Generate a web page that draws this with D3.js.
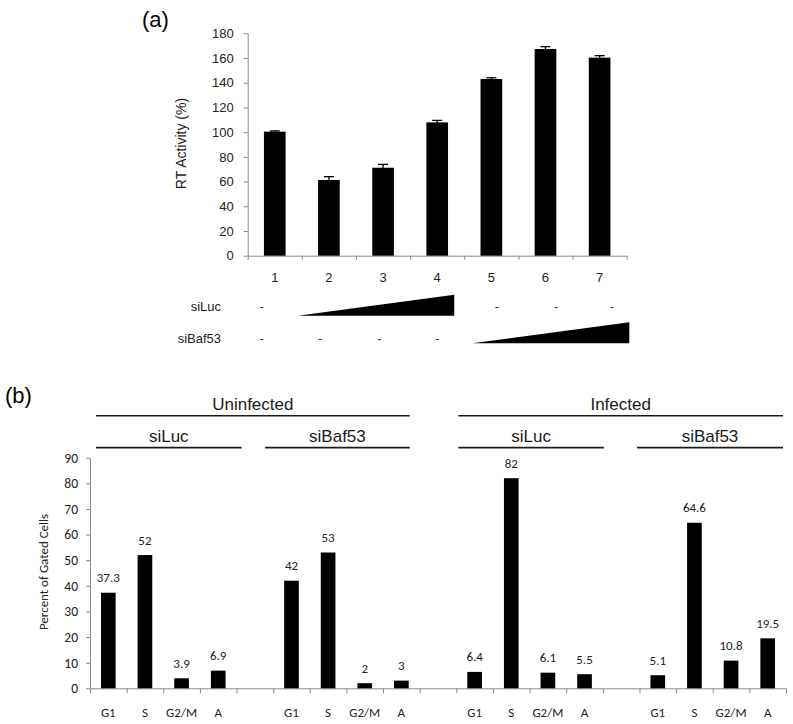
<!DOCTYPE html>
<html><head><meta charset="utf-8">
<script src="https://cdn.jsdelivr.net/npm/d3@7"></script>
<style>body{margin:0;background:#fff}</style>
</head><body><svg id="c" width="793" height="724" xmlns="http://www.w3.org/2000/svg"></svg>
<script>
// ---------- Panel (a) data ----------
const lanes = ["1","2","3","4","5","6","7"];
const rtActivity = [100.4, 61.3, 71.2, 107.9, 143.0, 167.3, 160.3];
const rtError = [0.6, 2.7, 2.7, 1.6, 1.0, 1.9, 1.6];
const rtTicks = [0, 20, 40, 60, 80, 100, 120, 140, 160, 180];
const treatmentRows = ["siLuc", "siBaf53"];
const siLucDose = ["-", "ramp", "ramp", "ramp", "-", "-", "-"];
const siBaf53Dose = ["-", "-", "-", "-", "ramp", "ramp", "ramp"];

// ---------- Panel (b) data ----------
const phases = ["G1", "S", "G2/M", "A"];
const infectionGroups = ["Uninfected", "Infected"];
const sirnaGroups = ["siLuc", "siBaf53"];
const uninfectedSiLuc = [37.3, 52, 3.9, 6.9];
const uninfectedSiBaf53 = [42, 53, 2, 3];
const infectedSiLuc = [6.4, 82, 6.1, 5.5];
const infectedSiBaf53 = [5.1, 64.6, 10.8, 19.5];
const gatedTicks = [0, 10, 20, 30, 40, 50, 60, 70, 80, 90];

const svg = d3.select("#c");
svg.append("rect").attr("width", 793).attr("height", 724).attr("fill", "#fff");
const AX = "#8a8a8a";
const ARIAL = "'Liberation Sans', Arial, sans-serif";
const CAL = "Carlito, Lato, 'Open Sans', sans-serif";

// ================= Panel (a) =================
{
  const L = 247.7, R = 626.7, T = 33.3, B = 255.7;
  const x = d3.scaleBand().domain(lanes).range([L, R]).padding(0);
  const xi = d3.scaleLinear().domain([0, lanes.length]).range([L, R]);
  const y = d3.scaleLinear().domain([0, 180]).range([B, T]);
  const g = svg.append("g");

  svg.append("text").attr("x", 142).attr("y", 27).attr("font-family", ARIAL)
    .attr("font-size", 22).text("(a)");

  // y axis
  const ya = g.append("g").attr("transform", `translate(${L},0)`)
    .call(d3.axisLeft(y).tickValues(rtTicks).tickSize(4).tickSizeOuter(0).tickPadding(10));
  ya.select(".domain").attr("stroke", AX);
  ya.selectAll(".tick line").attr("stroke", AX);
  ya.selectAll(".tick text").attr("font-family", ARIAL).attr("font-size", 13).attr("fill", "#222");

  // x axis (ticks at lane boundaries)
  const xa = g.append("g").attr("transform", `translate(0,${B})`)
    .call(d3.axisBottom(xi).tickValues(d3.range(0, lanes.length + 1)).tickSize(4).tickSizeOuter(0).tickFormat(""));
  xa.select(".domain").attr("stroke", AX);
  xa.selectAll(".tick line").attr("stroke", AX);

  const bw = x.bandwidth() * 0.4;
  const data = lanes.map((l, i) => ({ l, v: rtActivity[i], e: rtError[i] }));
  // error bars
  g.selectAll(".err").data(data).join("line")
    .attr("x1", d => x(d.l) + x.bandwidth() / 2).attr("x2", d => x(d.l) + x.bandwidth() / 2)
    .attr("y1", d => y(d.v - d.e)).attr("y2", d => y(d.v + d.e))
    .attr("stroke", "#000").attr("stroke-width", 1.3);
  g.selectAll(".cap").data(data).join("line")
    .attr("x1", d => x(d.l) + x.bandwidth() / 2 - 5).attr("x2", d => x(d.l) + x.bandwidth() / 2 + 5)
    .attr("y1", d => y(d.v + d.e)).attr("y2", d => y(d.v + d.e))
    .attr("stroke", "#000").attr("stroke-width", 1.3);
  g.selectAll(".bar").data(data).join("rect")
    .attr("x", d => x(d.l) + (x.bandwidth() - bw) / 2).attr("width", bw)
    .attr("y", d => y(d.v)).attr("height", d => B - y(d.v)).attr("fill", "#000");

  // lane labels
  g.selectAll(".lab").data(lanes).join("text")
    .attr("x", d => x(d) + x.bandwidth() / 2).attr("y", 282)
    .attr("text-anchor", "middle").attr("font-family", ARIAL).attr("font-size", 13)
    .attr("fill", "#222").text(d => d);

  // treatment rows
  const rowY = [306.7, 338.3];
  const rows = [siLucDose, siBaf53Dose];
  const dashShift = [[-13, 0, 0, 0, 5.5, 10.7, 12.3], [-13, -8.8, -3.6, 0.3, 0, 0, 0]];
  treatmentRows.forEach((name, r) => {
    g.append("text").attr("x", 221).attr("y", rowY[r]).attr("dy", "0.35em")
      .attr("text-anchor", "end").attr("font-family", ARIAL).attr("font-size", 13)
      .attr("fill", "#222").text(name);
    const dose = rows[r];
    dose.forEach((d, i) => {
      if (d === "-") {
        g.append("text").attr("x", x(lanes[i]) + x.bandwidth() / 2 + dashShift[r][i])
          .attr("y", rowY[r]).attr("dy", "0.35em").attr("text-anchor", "middle")
          .attr("font-family", ARIAL).attr("font-size", 13).attr("fill", "#333").text("-");
      }
    });
    const rampIdx = dose.map((d, i) => d === "ramp" ? i : -1).filter(i => i >= 0);
    const first = rampIdx[0], last = rampIdx[rampIdx.length - 1];
    const x0 = r === 0 ? xi(first) - 4 : xi(first) + 8;
    const x1 = r === 0 ? xi(last + 1) - 10 : xi(last + 1) + 2.6;
    const yb = r === 0 ? 315.7 : 343.3;
    const h = 21;
    g.append("path").attr("d", `M${x0},${yb}L${x1},${yb}L${x1},${yb - h}Z`).attr("fill", "#000");
  });

  g.append("text").attr("transform", `translate(181,143.5) rotate(-90)`)
    .attr("text-anchor", "middle").attr("dy", "0.35em").attr("font-family", ARIAL)
    .attr("font-size", 14).attr("fill", "#222").text("RT Activity (%)");
}

// ================= Panel (b) =================
{
  const L = 90, R = 786, T = 457.7, B = 688.3;
  const series = [uninfectedSiLuc, uninfectedSiBaf53, infectedSiLuc, infectedSiBaf53];
  const keys = [];
  series.forEach((s, gi) => {
    phases.forEach(p => keys.push(`${gi}|${p}`));
    if (gi < series.length - 1) keys.push(`gap${gi}`);
  });
  const x = d3.scaleBand().domain(keys).range([L, R]).padding(0);
  const xi = d3.scaleLinear().domain([0, keys.length]).range([L, R]);
  const y = d3.scaleLinear().domain([0, 90]).range([B, T]);
  const g = svg.append("g");

  svg.append("text").attr("x", 5).attr("y", 403).attr("font-family", ARIAL)
    .attr("font-size", 22).text("(b)");

  const ya = g.append("g").attr("transform", `translate(${L},0)`)
    .call(d3.axisLeft(y).tickValues(gatedTicks).tickSize(4).tickSizeOuter(0).tickPadding(8));
  ya.select(".domain").attr("stroke", AX);
  ya.selectAll(".tick line").attr("stroke", AX);
  ya.selectAll(".tick text").attr("font-family", CAL).attr("font-size", 13.5).attr("fill", "#222");

  const xa = g.append("g").attr("transform", `translate(0,${B})`)
    .call(d3.axisBottom(xi).tickValues(d3.range(0, keys.length + 1)).tickSize(5).tickSizeOuter(0).tickFormat(""));
  xa.select(".domain").attr("stroke", AX);
  xa.selectAll(".tick line").attr("stroke", AX);

  const data = [];
  series.forEach((s, gi) => phases.forEach((p, i) => data.push({ k: `${gi}|${p}`, p, v: s[i] })));
  const bw = x.bandwidth() * 0.4;
  g.selectAll(".bar").data(data).join("rect")
    .attr("x", d => x(d.k) + (x.bandwidth() - bw) / 2).attr("width", bw)
    .attr("y", d => y(d.v)).attr("height", d => B - y(d.v)).attr("fill", "#000");
  g.selectAll(".val").data(data).join("text")
    .attr("x", d => x(d.k) + x.bandwidth() / 2).attr("y", d => y(d.v) - 10.5)
    .attr("text-anchor", "middle").attr("font-family", CAL).attr("font-size", 13)
    .attr("fill", "#222").text(d => d.v);
  g.selectAll(".xl").data(data).join("text")
    .attr("x", d => x(d.k) + x.bandwidth() / 2).attr("y", 716.5)
    .attr("text-anchor", "middle").attr("font-family", CAL).attr("font-size", 13)
    .attr("fill", "#222").text(d => d.p);

  g.append("text").attr("transform", `translate(43,572) rotate(-90)`)
    .attr("text-anchor", "middle").attr("dy", "0.35em").attr("font-family", CAL)
    .attr("font-size", 13).attr("fill", "#222").text("Percent of Gated Cells");

  // group headers
  const groupStart = gi => x(`${gi}|${phases[0]}`);
  const groupEnd = gi => x(`${gi}|${phases[phases.length - 1]}`) + x.bandwidth();
  const subAdj = [[6, 5], [-8, -10], [2, 1], [-2.5, -3]];
  const subSpan = gi => [groupStart(gi) + subAdj[gi][0], groupEnd(gi) + subAdj[gi][1]];
  infectionGroups.forEach((name, ii) => {
    const a = subSpan(ii * 2)[0], b = subSpan(ii * 2 + 1)[1];
    g.append("line").attr("x1", a).attr("x2", b).attr("y1", 415.7).attr("y2", 415.7)
      .attr("stroke", "#1a1a1a").attr("stroke-width", 1.6);
    g.append("text").attr("x", (a + b) / 2).attr("y", 410).attr("text-anchor", "middle")
      .attr("font-family", ARIAL).attr("font-size", 17).attr("fill", "#1a1a1a").text(name);
    sirnaGroups.forEach((sn, si) => {
      const [c, d] = subSpan(ii * 2 + si);
      g.append("line").attr("x1", c).attr("x2", d).attr("y1", 447.6).attr("y2", 447.6)
        .attr("stroke", "#1a1a1a").attr("stroke-width", 1.6);
      g.append("text").attr("x", (c + d) / 2).attr("y", 441.7).attr("text-anchor", "middle")
        .attr("font-family", ARIAL).attr("font-size", 17).attr("fill", "#1a1a1a").text(sn);
    });
  });
}
</script>
</body></html>
